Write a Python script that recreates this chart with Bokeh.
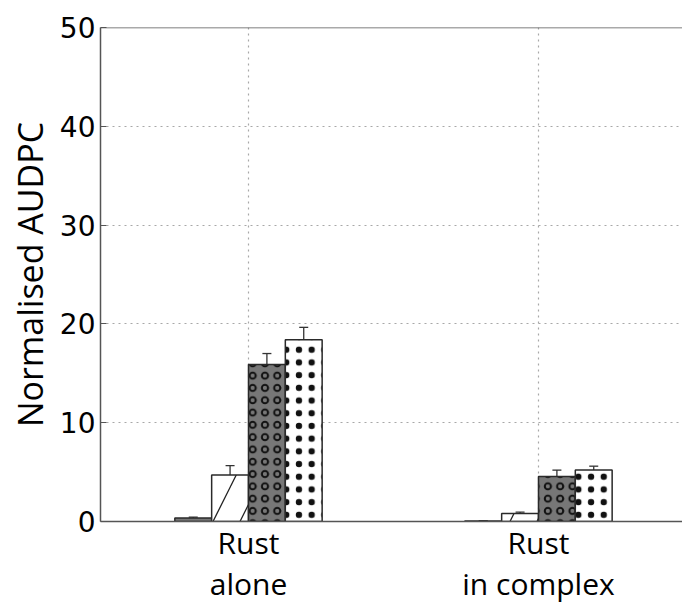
import numpy as np
from bokeh.plotting import figure
from bokeh.models import (ColumnDataSource, Whisker, TeeHead, Range1d,
                          FixedTicker, Span)
from bokeh.embed import file_html
from bokeh.resources import INLINE

# ---- data ----
categories = ["Rust\nalone", "Rust\nin complex"]
s1_vals = [0.35, 0.05]
s1_err = [0.1, 0.02]
s2_vals = [4.7, 0.8]
s2_err = [0.95, 0.15]
s3_vals = [15.9, 4.55]
s3_err = [1.1, 0.65]
s4_vals = [18.4, 5.2]
s4_err = [1.25, 0.4]
y_ticks = [0, 10, 20, 30, 40, 50]

W, H = 682, 606
p = figure(width=W, height=H,
           x_range=Range1d(-0.5103, 1.4966), y_range=Range1d(0, 50),
           output_backend="svg", toolbar_location=None,
           min_border_left=100, min_border_right=0, min_border_top=27,
           min_border_bottom=83)
p.outline_line_color = None
p.background_fill_color = "white"

idx = np.arange(len(categories))
w = 0.127
offsets = [-1.5 * w, -0.5 * w, 0.5 * w, 1.5 * w]

styles = [
    dict(fill_color="#777777"),
    dict(fill_color="white", hatch_pattern="right_diagonal_line", hatch_scale=54,
         hatch_weight=1.3, hatch_color="#222222"),
    dict(fill_color="#777777", hatch_pattern="ring", hatch_scale=12.3,
         hatch_weight=2.0, hatch_color="#111111"),
    dict(fill_color="white", hatch_pattern="dot", hatch_scale=12.7,
         hatch_weight=1.0, hatch_color="#111111"),
]
series = [(s1_vals, s1_err), (s2_vals, s2_err), (s3_vals, s3_err), (s4_vals, s4_err)]

for (vals, err), off, st in zip(series, offsets, styles):
    x = idx + off
    vals = np.array(vals)
    err = np.array(err)
    src = ColumnDataSource(dict(x=x, top=vals, lower=vals - err, upper=vals + err))
    p.vbar(x="x", top="top", width=w, bottom=0, source=src,
           line_color="#2a2a2a", line_width=1.5, **st)
    wh = Whisker(base="x", lower="lower", upper="upper", source=src,
                 line_color="#333333", line_width=1.3,
                 upper_head=TeeHead(size=9, line_color="#333333", line_width=1.3),
                 lower_head=TeeHead(size=9, line_color="#333333", line_width=1.3))
    p.add_layout(wh)

# ---- axes ----
axis_col = "#555555"
p.xaxis.ticker = FixedTicker(ticks=list(idx))
p.xaxis.major_label_overrides = {int(i): c for i, c in zip(idx, categories)}
p.xaxis.major_label_text_font = "Open Sans"
p.xaxis.major_label_text_font_size = "30px"
p.xaxis.major_label_text_line_height = 1.0
p.xaxis.major_label_text_color = "black"
p.xaxis.major_label_standoff = 0
p.xaxis.major_tick_in = 0
p.xaxis.major_tick_out = 0
p.xaxis.minor_tick_line_color = None
p.xaxis.axis_line_color = axis_col
p.xaxis.axis_line_width = 1.5

p.yaxis.ticker = FixedTicker(ticks=y_ticks)
p.yaxis.major_label_text_font = "DejaVu Sans"
p.yaxis.major_label_text_font_size = "28px"
p.yaxis.major_label_text_color = "black"
p.yaxis.major_label_standoff = 5
p.yaxis.major_tick_in = 6
p.yaxis.major_tick_out = 0
p.yaxis.minor_tick_line_color = None
p.yaxis.axis_line_color = axis_col
p.yaxis.axis_line_width = 1.5
p.yaxis.major_tick_line_color = axis_col
p.yaxis.axis_label = "Normalised AUDPC"
p.yaxis.axis_label_text_font = "Open Sans"
p.yaxis.axis_label_text_font_size = "34px"
p.yaxis.axis_label_text_font_style = "normal"
p.yaxis.axis_label_text_color = "black"
p.yaxis.axis_label_standoff = 4

# top spine
p.add_layout(Span(location=50, dimension="width", line_color=axis_col, line_width=1.5))

# ---- grid ----
p.xgrid.ticker = FixedTicker(ticks=list(idx))
p.ygrid.ticker = FixedTicker(ticks=y_ticks)
for g in (p.xgrid, p.ygrid):
    g.grid_line_color = "#a8a8a8"
    g.grid_line_dash = "2 4"
    g.grid_line_width = 1.2

open("out.html", "w").write(file_html(p, INLINE))
